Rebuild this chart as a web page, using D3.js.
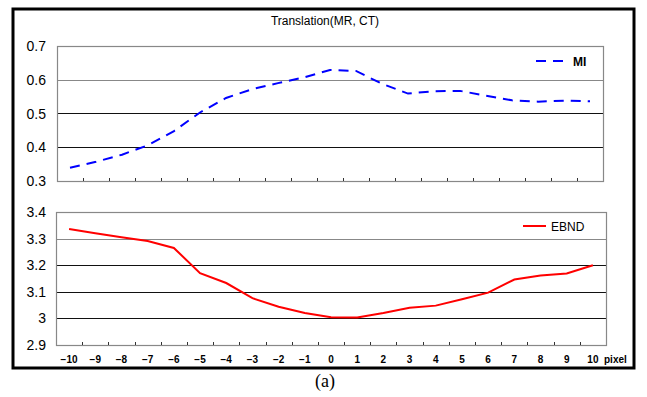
<!DOCTYPE html>
<html>
<head>
<meta charset="utf-8">
<script src="https://cdn.jsdelivr.net/npm/d3@7"></script>
<style>
  body { margin: 0; background: #fff; }
  svg text { font-family: Arial, "Liberation Sans", sans-serif; }
  svg text.caption { font-family: "Liberation Serif", "Times New Roman", serif; }
</style>
</head>
<body>
<div id="chart"></div>
<script>
// data
const pixels = [-10, -9, -8, -7, -6, -5, -4, -3, -2, -1, 0, 1, 2, 3, 4, 5, 6, 7, 8, 9, 10];
const miValues = [0.339, 0.357, 0.378, 0.406, 0.448, 0.503, 0.546, 0.572, 0.590, 0.607, 0.629, 0.626, 0.588, 0.559, 0.566, 0.567, 0.553, 0.539, 0.535, 0.538, 0.536];
const ebndValues = [3.336, 3.320, 3.305, 3.291, 3.265, 3.170, 3.133, 3.076, 3.044, 3.020, 3.004, 3.003, 3.020, 3.040, 3.048, 3.072, 3.097, 3.146, 3.161, 3.169, 3.200];
const miTicks = [0.3, 0.4, 0.5, 0.6, 0.7];
const ebndTicks = [2.9, 3.0, 3.1, 3.2, 3.3, 3.4];

const width = 647, height = 397;
const svg = d3.select("#chart").append("svg")
  .attr("width", width).attr("height", height);

// outer frame
svg.append("rect")
  .attr("x", 13).attr("y", 9).attr("width", 621).attr("height", 359)
  .attr("fill", "none").attr("stroke", "#000").attr("stroke-width", 3);

svg.append("text")
  .attr("x", 325).attr("y", 25)
  .attr("text-anchor", "middle")
  .attr("font-size", 12)
  .text("Translation(MR, CT)");

function panel(opts) {
  const x = d3.scaleBand().domain(pixels).range([opts.left, opts.right]);
  const y = d3.scaleLinear().domain(d3.extent(opts.ticks)).range([opts.bottom, opts.top]);
  const g = svg.append("g");

  // gridlines (first one under the top comes out grey in the original)
  opts.ticks.slice(1, -1).forEach((t, i, arr) => {
    g.append("line")
      .attr("x1", opts.left).attr("x2", opts.right)
      .attr("y1", Math.round(y(t)) + 0.5).attr("y2", Math.round(y(t)) + 0.5)
      .attr("stroke", i === arr.length - 1 ? "#888" : "#111");
  });

  // plot area border
  g.append("rect")
    .attr("x", opts.left + 0.5).attr("y", opts.top + 0.5)
    .attr("width", opts.right - opts.left).attr("height", opts.bottom - opts.top)
    .attr("fill", "none").attr("stroke", "#888").attr("stroke-width", 1.2);

  // y labels
  g.selectAll(".ylab").data(opts.ticks).enter().append("text")
    .attr("x", 46).attr("y", d => y(d) + 5)
    .attr("text-anchor", "end")
    .attr("font-size", 14)
    .text(d => opts.fmt(d));

  // category ticks along the bottom
  pixels.slice(1).forEach(p => {
    const tx = Math.round(x(p)) + 0.5;
    g.append("line")
      .attr("x1", tx).attr("x2", tx)
      .attr("y1", opts.bottom).attr("y2", opts.bottom - 3)
      .attr("stroke", "#333");
  });

  const line = d3.line()
    .x((d, i) => x(pixels[i]) + x.bandwidth() / 2)
    .y(d => y(d));

  g.append("path")
    .datum(opts.values)
    .attr("d", line)
    .attr("fill", "none")
    .attr("stroke", opts.color)
    .attr("stroke-width", 2)
    .attr("stroke-dasharray", opts.dash);

  // legend
  g.append("line")
    .attr("x1", opts.legX1).attr("x2", opts.legX2)
    .attr("y1", opts.legY).attr("y2", opts.legY)
    .attr("stroke", opts.color).attr("stroke-width", 2)
    .attr("stroke-dasharray", opts.dash);
  g.append("text")
    .attr("x", opts.legX2 + 5).attr("y", opts.legY + 5)
    .attr("font-size", 12)
    .attr("font-weight", opts.legBold ? "bold" : "normal")
    .text(opts.name);

  return x;
}

panel({
  left: 57, right: 603, top: 46, bottom: 181,
  ticks: miTicks, values: miValues, fmt: d3.format(".1f"),
  color: "#0000ff", dash: "10,7", name: "MI",
  legX1: 536, legX2: 568, legY: 61, legBold: true
});

const xb = panel({
  left: 56, right: 606, top: 212, bottom: 345,
  ticks: ebndTicks, values: ebndValues, fmt: d => d === 3 ? "3" : d3.format(".1f")(d),
  color: "#ff0000", dash: null, name: "EBND",
  legX1: 523, legX2: 546, legY: 226, legBold: false
});

// x axis labels
svg.selectAll(".xlab").data(pixels).enter().append("text")
  .attr("x", d => xb(d) + xb.bandwidth() / 2)
  .attr("y", 363)
  .attr("text-anchor", "middle")
  .attr("font-size", 10)
  .attr("font-weight", "bold")
  .text(d => d < 0 ? "\u2212" + Math.abs(d) : d);

svg.append("text")
  .attr("x", 604).attr("y", 363)
  .attr("font-size", 10).attr("font-weight", "bold")
  .text("pixel");

svg.append("text")
  .attr("class", "caption")
  .attr("x", 325).attr("y", 387)
  .attr("text-anchor", "middle")
  .attr("font-size", 18)
  .text("(a)");
</script>
</body>
</html>
